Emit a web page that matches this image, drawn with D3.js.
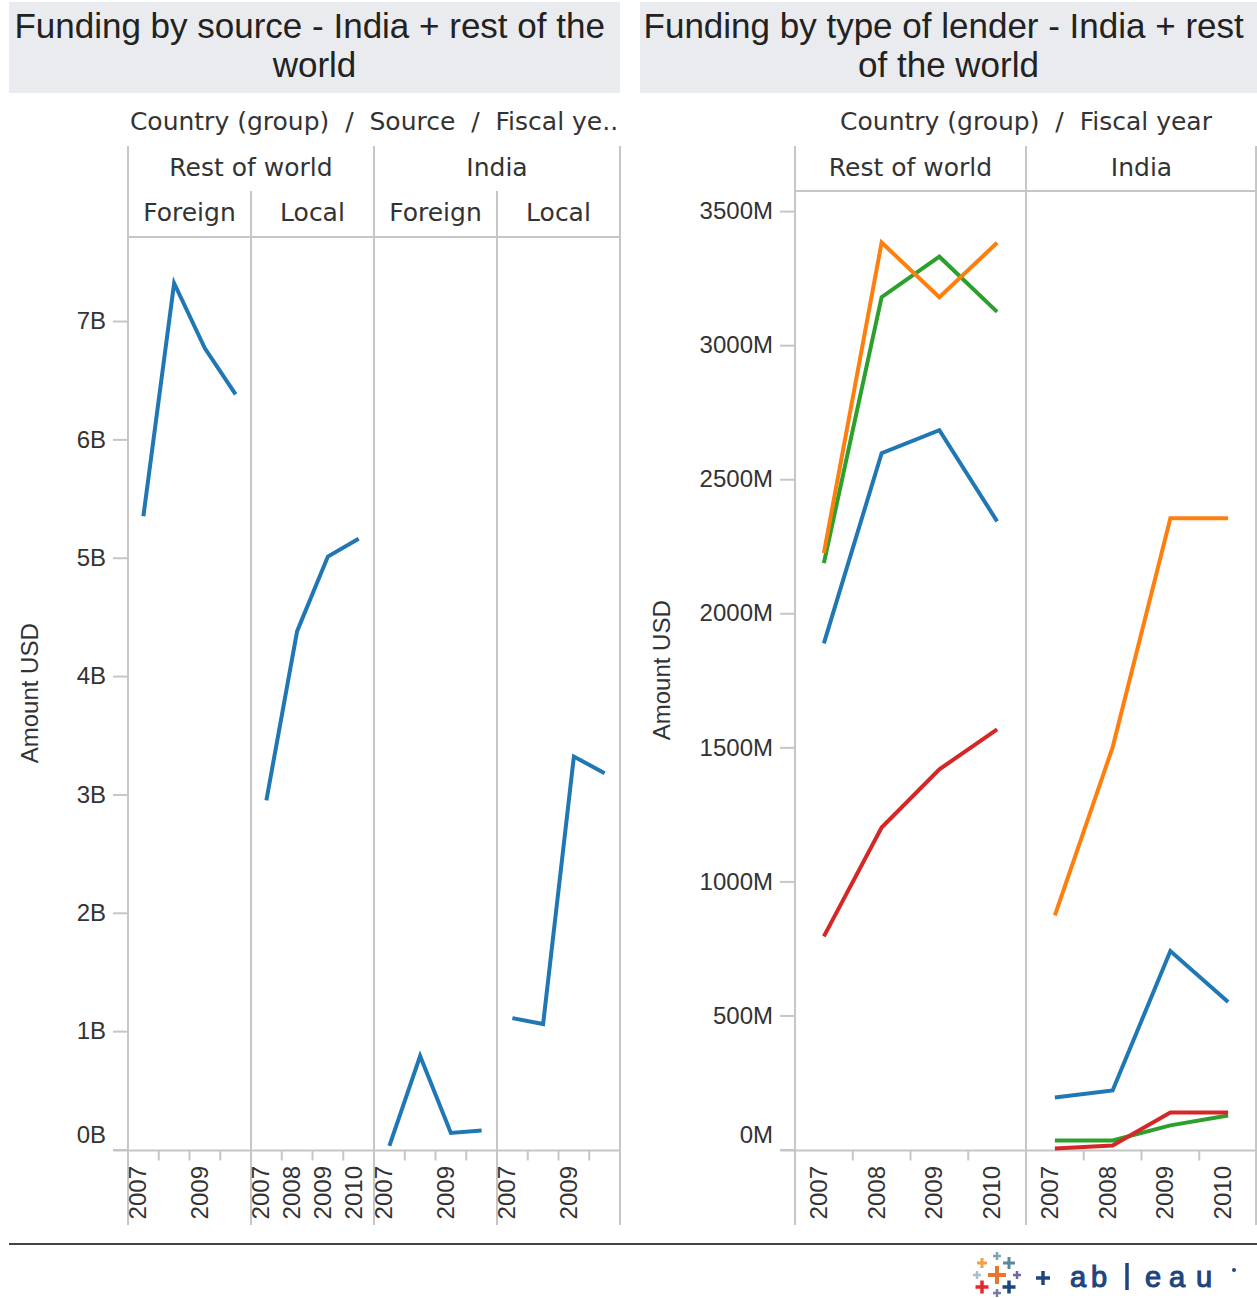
<!DOCTYPE html>
<html>
<head>
<meta charset="utf-8">
<script src="https://cdn.jsdelivr.net/npm/d3@7"></script>
<style>
  body { margin: 0; background: #fff; }
  svg { display: block; }
  text { white-space: pre; }
</style>
</head>
<body>
<svg id="chart" width="1257" height="1298"></svg>
<script>
// ---------- data ----------
const years = ["2007", "2008", "2009", "2010"];
const countryGroups = ["Rest of world", "India"];
const sources = ["Foreign", "Local"];

// Funding by source, billions USD
const restForeign = [5.35, 7.32, 6.77, 6.38];
const restLocal = [2.95, 4.38, 5.01, 5.16];
const indiaForeign = [0.03, 0.79, 0.14, 0.16];
const indiaLocal = [1.11, 1.06, 3.32, 3.18];
const sourceTicks = [0, 1, 2, 3, 4, 5, 6, 7];
// year labels that fit under each source pane
const sourceYearLabels = [
  ["2007", "2009"],
  ["2007", "2008", "2009", "2010"],
  ["2007", "2009"],
  ["2007", "2009"]
];

// Funding by type of lender, millions USD (one series per lender type)
const restLender1 = [1888, 2597, 2683, 2343];
const restLender2 = [2224, 3383, 3179, 3382];
const restLender3 = [2187, 3179, 3330, 3124];
const restLender4 = [795, 1201, 1418, 1567];
const indiaLender1 = [194, 220, 740, 550];
const indiaLender2 = [873, 1500, 2354, 2354];
const indiaLender3 = [34, 34, 90, 127];
const indiaLender4 = [4, 15, 138, 138];
const lenderTicks = [0, 500, 1000, 1500, 2000, 2500, 3000, 3500];
const lenderColors = ["#1f77b4", "#ff7f0e", "#2ca02c", "#d62728"];

// wrapped title lines keep the trailing space of the break
const leftTitle = ["Funding by source - India + rest of the ", "world"];
const rightTitle = ["Funding by type of lender - India + rest ", "of the world"];
const leftHeader = "Country (group)  /  Source  /  Fiscal ye..";
const rightHeader = "Country (group)  /  Fiscal year";
const axisTitle = "Amount USD";

// ---------- styling ----------
const svg = d3.select("#chart");
const gridColor = "#c6c6c6";
const textColor = "#333";
const sansFont = "'Liberation Sans', Arial, sans-serif";
const headFont = "'DejaVu Sans', Verdana, sans-serif";
const lineColor = "#1f77b4";
const lineWidth = 4;

const headTop = 146, gridBottom = 1225, baseY = 1150.5;

function vline(x, y0, y1) {
  svg.append("line").attr("x1", x).attr("x2", x).attr("y1", y0).attr("y2", y1)
    .attr("stroke", gridColor).attr("stroke-width", 2);
}
function hline(y, x0, x1) {
  svg.append("line").attr("x1", x0).attr("x2", x1).attr("y1", y).attr("y2", y)
    .attr("stroke", gridColor).attr("stroke-width", 2);
}
function label(x, y, t, font, size, anchor) {
  return svg.append("text").attr("x", x).attr("y", y).attr("text-anchor", anchor || "middle")
    .attr("font-family", font).attr("font-size", size).attr("fill", textColor).text(t);
}

// title bands
function titleBand(x0, x1, lines) {
  svg.append("rect").attr("x", x0).attr("y", 2).attr("width", x1 - x0).attr("height", 91)
    .attr("fill", "#e9ebee");
  lines.forEach((t, i) => {
    svg.append("text").attr("x", (x0 + x1) / 2).attr("y", 38 + i * 39)
      .attr("text-anchor", "middle").attr("font-family", sansFont).attr("font-size", 35)
      .attr("fill", "#222").text(t);
  });
}
titleBand(9, 620, leftTitle);
titleBand(640, 1257, rightTitle);

function yAxis(scale, x, ticks, fmt, titleX) {
  const g = svg.append("g").attr("transform", `translate(${x},0)`)
    .call(d3.axisLeft(scale).tickValues(ticks).tickFormat(fmt).tickSize(15).tickPadding(7));
  g.select(".domain").remove();
  g.selectAll(".tick line").attr("stroke", gridColor).attr("stroke-width", 2);
  g.selectAll(".tick text").attr("font-family", sansFont).attr("font-size", 24).attr("fill", textColor);
  // the zero label sits above the baseline
  g.selectAll(".tick").filter(d => d === 0).select("text").attr("dy", "-0.28em");
  const my = (scale.range()[0] + scale.range()[1]) / 2;
  svg.append("text").attr("transform", `translate(${titleX},${my}) rotate(-90)`)
    .attr("text-anchor", "middle").attr("font-family", sansFont).attr("font-size", 24)
    .attr("fill", textColor).text(axisTitle);
}

function yearAxis(x0, yearScale, shown) {
  years.forEach(yr => {
    const bx = x0 + yearScale(yr);
    svg.append("line").attr("x1", bx).attr("x2", bx).attr("y1", baseY).attr("y2", baseY + 10)
      .attr("stroke", gridColor).attr("stroke-width", 2);
    if (shown.includes(yr)) {
      const cx = bx + yearScale.bandwidth() / 2 + 3;
      svg.append("text").attr("transform", `translate(${cx},1166) rotate(-90)`)
        .attr("text-anchor", "end").attr("font-family", sansFont).attr("font-size", 24)
        .attr("fill", textColor).text(yr);
    }
  });
}

// ---------- left chart: funding by source ----------
const sourcePanes = [
  { group: countryGroups[0], source: sources[0], values: restForeign },
  { group: countryGroups[0], source: sources[1], values: restLocal },
  { group: countryGroups[1], source: sources[0], values: indiaForeign },
  { group: countryGroups[1], source: sources[1], values: indiaLocal }
];
const leftPane = d3.scaleBand().domain(d3.range(sourcePanes.length)).range([128, 620]);
const leftYear = d3.scaleBand().domain(years).range([0, leftPane.bandwidth()]);
const leftY = d3.scaleLinear().domain([0, 7.71]).range([1149.5, 237]);

label(374, 130, leftHeader, headFont, 25);
countryGroups.forEach((g, gi) => {
  const x0 = leftPane(gi * 2), x1 = leftPane(gi * 2 + 1) + leftPane.bandwidth();
  label((x0 + x1) / 2, 176, g, headFont, 25);
});
sourcePanes.forEach((p, i) => {
  label(leftPane(i) + leftPane.bandwidth() / 2, 221, p.source, headFont, 25);
});
hline(237, 128, 620);
hline(baseY, 113, 620);
[0, 2].forEach(i => vline(leftPane(i), headTop, gridBottom));
vline(620, headTop, gridBottom);
[1, 3].forEach(i => vline(leftPane(i), 191, gridBottom));

yAxis(leftY, 128, sourceTicks, d => d + "B", 38);

const leftLine = d3.line()
  .x((d, i) => leftYear(years[i]) + leftYear.bandwidth() / 2)
  .y(d => leftY(d));
sourcePanes.forEach((p, i) => {
  yearAxis(leftPane(i), leftYear, sourceYearLabels[i]);
  svg.append("path").attr("transform", `translate(${leftPane(i)},0)`)
    .attr("d", leftLine(p.values)).attr("fill", "none")
    .attr("stroke", lineColor).attr("stroke-width", lineWidth).attr("stroke-linejoin", "miter");
});

// ---------- right chart: funding by type of lender ----------
const lenderPanes = [
  { group: countryGroups[0], series: [restLender1, restLender2, restLender3, restLender4] },
  { group: countryGroups[1], series: [indiaLender1, indiaLender2, indiaLender3, indiaLender4] }
];
const rightPane = d3.scaleBand().domain(countryGroups).range([795, 1257]);
const rightYear = d3.scaleBand().domain(years).range([0, rightPane.bandwidth()]);
const rightY = d3.scaleLinear().domain([0, 3575]).range([1149.5, 191]);

label(1026, 130, rightHeader, headFont, 25);
countryGroups.forEach(g => label(rightPane(g) + rightPane.bandwidth() / 2, 176, g, headFont, 25));
hline(191, 795, 1257);
hline(baseY, 780, 1257);
vline(795, headTop, gridBottom);
vline(rightPane(countryGroups[1]), headTop, gridBottom);
vline(1256, headTop, gridBottom);

yAxis(rightY, 795, lenderTicks, d => d + "M", 670);

const rightLine = d3.line()
  .x((d, i) => rightYear(years[i]) + rightYear.bandwidth() / 2)
  .y(d => rightY(d));
lenderPanes.forEach(p => {
  yearAxis(rightPane(p.group), rightYear, years);
  const g = svg.append("g").attr("transform", `translate(${rightPane(p.group)},0)`);
  // draw order: blue, green, orange on top for the crossing pair, red last
  [0, 2, 1, 3].forEach(k => {
    g.append("path").attr("d", rightLine(p.series[k])).attr("fill", "none")
      .attr("stroke", lenderColors[k]).attr("stroke-width", lineWidth).attr("stroke-linejoin", "miter");
  });
});

// ---------- footer ----------
svg.append("line").attr("x1", 9).attr("x2", 1257).attr("y1", 1244).attr("y2", 1244)
  .attr("stroke", "#444").attr("stroke-width", 2);

// wordmark: cluster of crosses followed by the lettering
const crosses = [
  [997, 1275, 9, "#e8762d", 4],
  [982, 1263, 5, "#f0a04b", 3],
  [997, 1256, 4, "#7fa4b3", 2.5],
  [1009, 1263, 6, "#5b879b", 3],
  [977, 1275, 4, "#a7c0cc", 2.5],
  [1017, 1275, 4, "#6d6aa0", 2.5],
  [982, 1287, 6.5, "#e8262d", 3.5],
  [1009, 1287, 6.5, "#1f457e", 3.5],
  [997, 1293, 4, "#7a7aa8", 2.5],
  [1043, 1278, 7, "#1f457e", 3.5]
];
crosses.forEach(([cx, cy, r, c, w]) => {
  svg.append("path").attr("d", `M${cx - r},${cy}H${cx + r}M${cx},${cy - r}V${cy + r}`)
    .attr("stroke", c).attr("stroke-width", w).attr("fill", "none");
});
const letters = [["a", 1078], ["b", 1099], ["e", 1153], ["a", 1177], ["u", 1204]];
letters.forEach(([ch, x]) => {
  svg.append("text").attr("x", x).attr("y", 1287).attr("text-anchor", "middle")
    .attr("font-family", sansFont).attr("font-size", 29)
    .attr("fill", "#1f457e").attr("stroke", "#1f457e").attr("stroke-width", 1.1).text(ch);
});
svg.append("line").attr("x1", 1127).attr("x2", 1127).attr("y1", 1263).attr("y2", 1290)
  .attr("stroke", "#1f457e").attr("stroke-width", 3.5);
svg.append("circle").attr("cx", 1234).attr("cy", 1270).attr("r", 2).attr("fill", "#1f457e");
</script>
</body>
</html>
